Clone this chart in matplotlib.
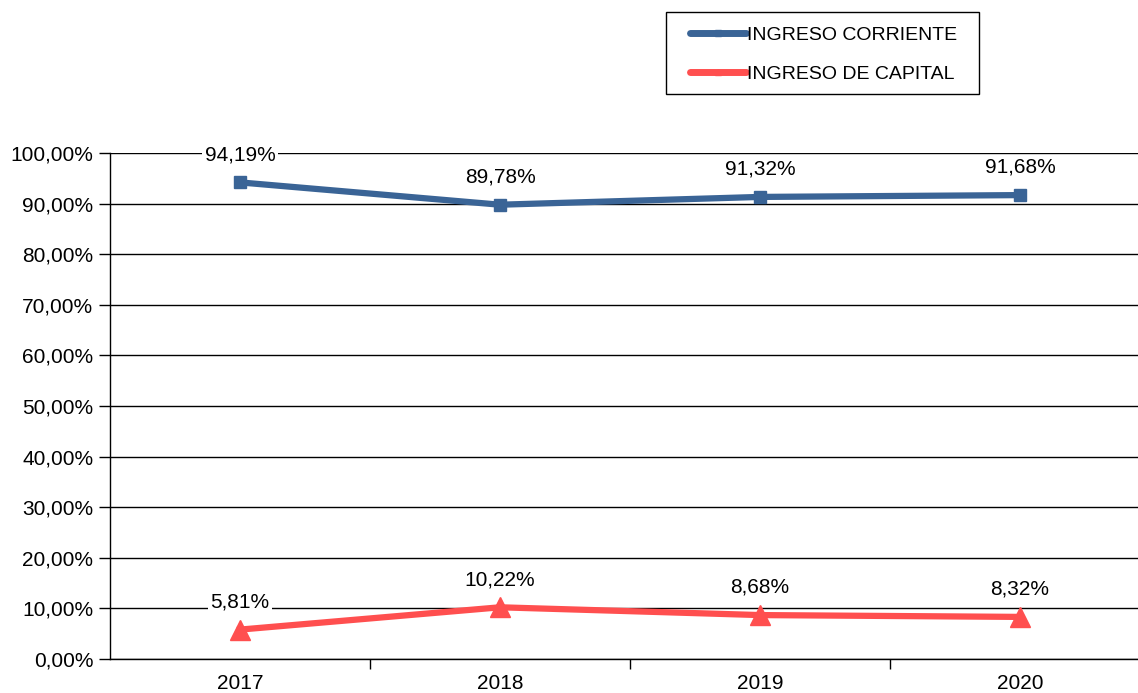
import matplotlib.pyplot as plt
from matplotlib.lines import Line2D
from matplotlib.patches import Rectangle
from matplotlib.ticker import FixedLocator

plt.rcParams['font.family'] = ['Liberation Sans', 'DejaVu Sans']

years = ['2017', '2018', '2019', '2020']
corriente = [94.19, 89.78, 91.32, 91.68]
capital = [5.81, 10.22, 8.68, 8.32]
yticks = [0, 10, 20, 30, 40, 50, 60, 70, 80, 90, 100]

blue = '#3A6496'
red = '#FF4F4F'
fs = 15
W, H = 1138, 693

fig = plt.figure(figsize=(W / 100, H / 100), dpi=100)
ax = fig.add_axes([110 / W, 34 / H, 1040 / W, 506 / H])

x = list(range(len(years)))
ax.plot(x, corriente, color=blue, lw=4.5, marker='s', ms=9, zorder=3)
ax.plot(x, capital, color=red, lw=4.5, marker='^', ms=15, zorder=3)


def fmt(v):
    return f'{v:.2f}'.replace('.', ',') + '%'


# etiquetas de datos con fondo blanco (tapan la linea de grilla)
for serie in (corriente, capital):
    for xi, v in zip(x, serie):
        ax.annotate(fmt(v), (xi, v), xytext=(0, 20), textcoords='offset points',
                    ha='center', va='center', fontsize=fs,
                    bbox=dict(facecolor='white', edgecolor='none', pad=2), zorder=4)

ax.set_xlim(-0.5, 3.5)
ax.set_ylim(0, 100)
ax.set_yticks(yticks)
ax.set_yticklabels([f'{t:.2f}'.replace('.', ',') + '%' for t in yticks], fontsize=fs)
ax.yaxis.grid(True, color='black', lw=1)
ax.set_axisbelow(True)
ax.tick_params(axis='y', length=8, width=1, direction='out', pad=4)

ax.set_xticks(x)
ax.set_xticklabels(years, fontsize=fs)
ax.tick_params(axis='x', length=0, pad=11)
ax.xaxis.set_minor_locator(FixedLocator([0.5, 1.5, 2.5]))
ax.tick_params(axis='x', which='minor', length=7, width=1, direction='out')

for s in ['top', 'right']:
    ax.spines[s].set_visible(False)
for s in ['left', 'bottom']:
    ax.spines[s].set_color('black')
    ax.spines[s].set_linewidth(1)

# recuadro de la leyenda dibujado aparte
fig.patches.append(Rectangle((666 / W, 1 - 94 / H), 313 / W, 82 / H,
                             transform=fig.transFigure, facecolor='white',
                             edgecolor='black', lw=1, zorder=1))

handles = [
    Line2D([], [], color=blue, lw=5, marker='s', ms=4, solid_capstyle='round'),
    Line2D([], [], color=red, lw=5, marker='^', ms=4, solid_capstyle='round'),
]
leg = fig.legend(handles, ['INGRESO CORRIENTE', 'INGRESO DE CAPITAL'],
                 loc='upper left', bbox_to_anchor=(690 / W, 1 - 26 / H),
                 borderaxespad=0, borderpad=0, fontsize=14, frameon=False,
                 handlelength=2.9, handletextpad=0.05, labelspacing=1.1)
leg.set_zorder(2)

fig.savefig('out.png', dpi=100)
